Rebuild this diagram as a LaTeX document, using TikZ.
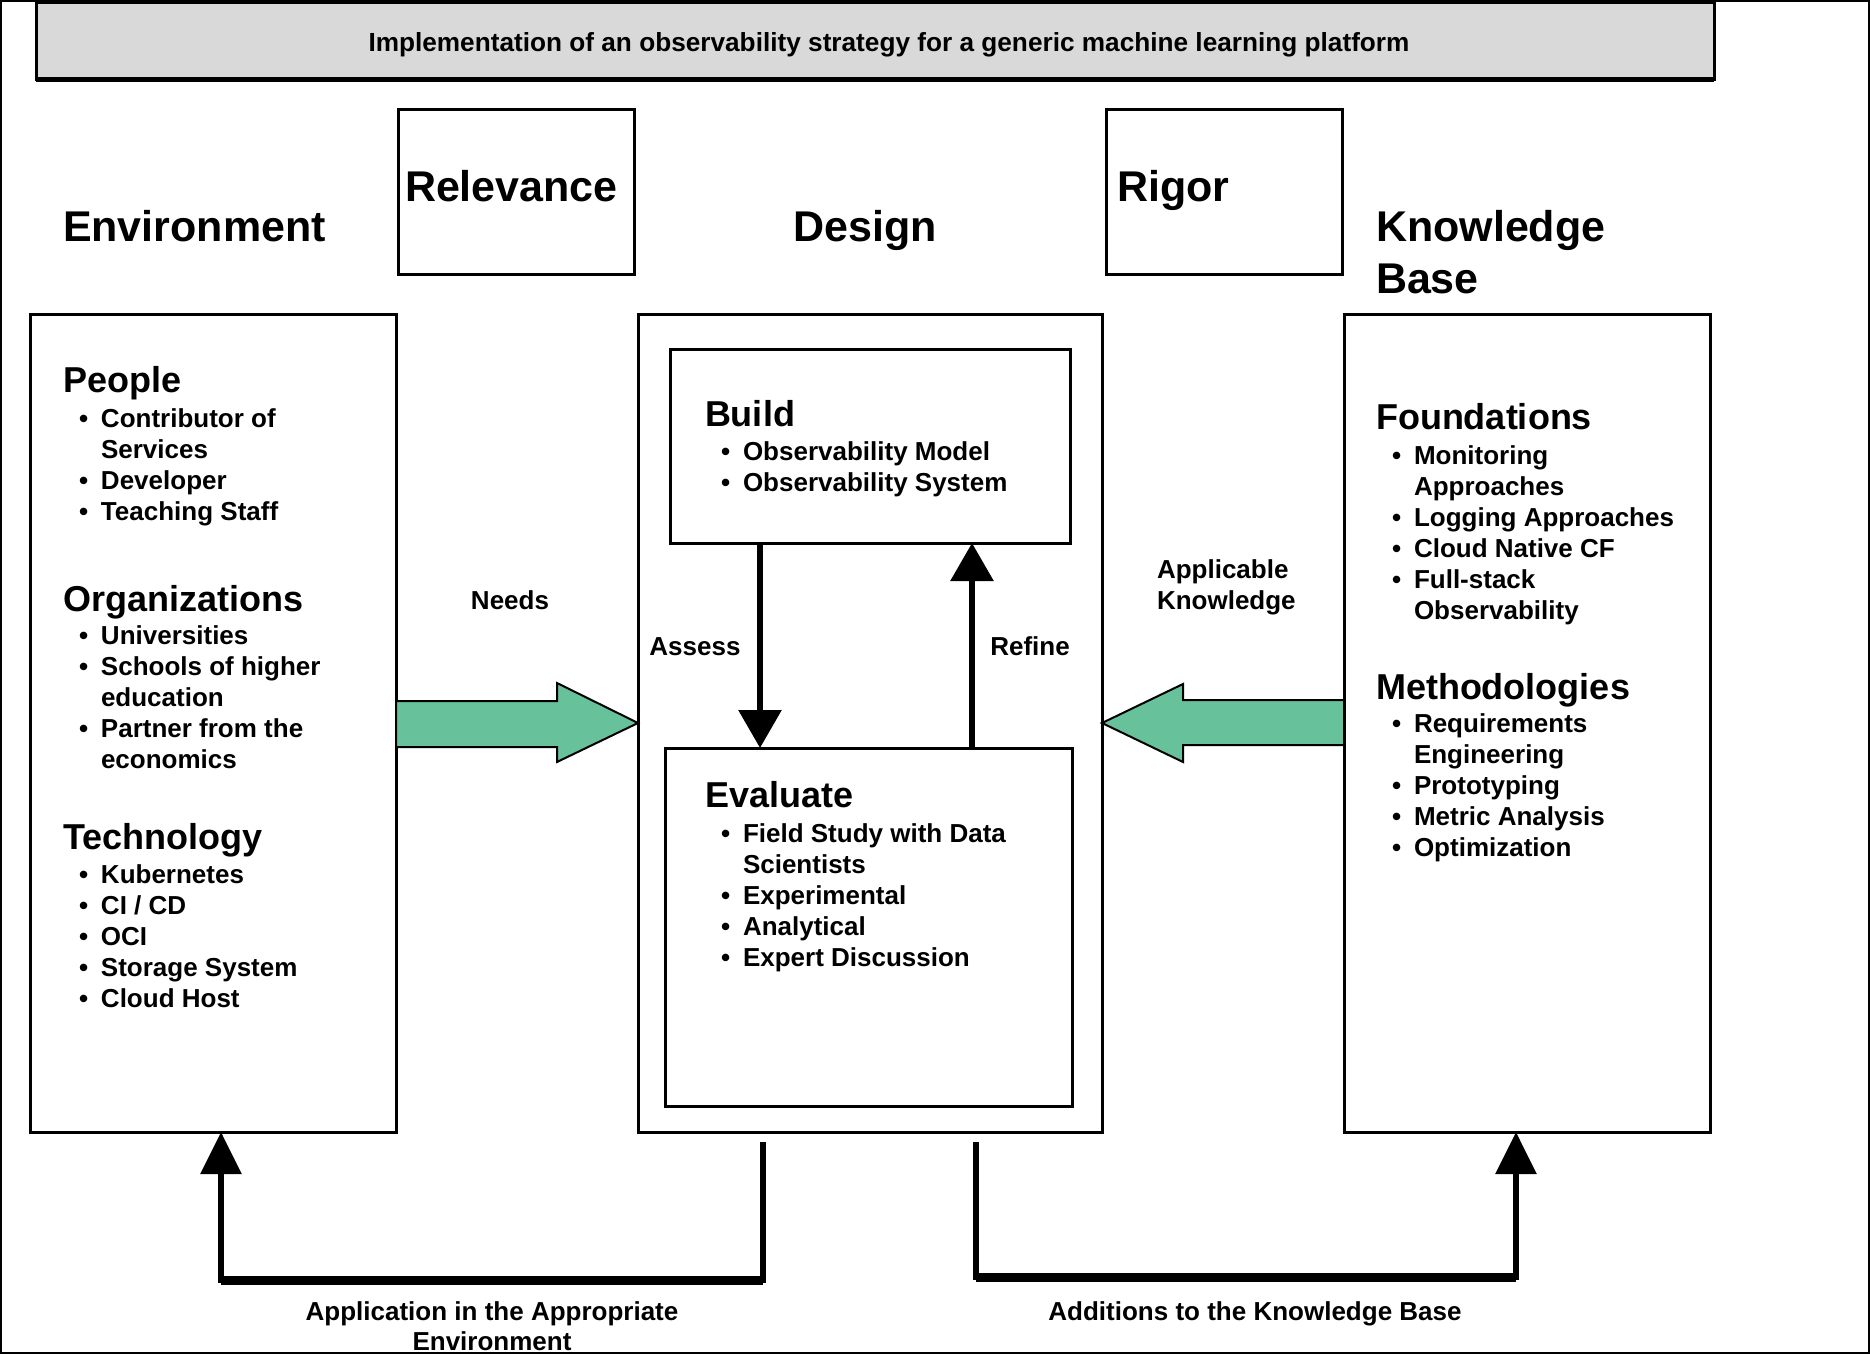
\documentclass[tikz,border=0pt]{standalone}
\usepackage{fontspec}
\setmainfont{Liberation Sans}
\usetikzlibrary{arrows.meta,fit}

\definecolor{titlegray}{HTML}{D9D9D9}
\definecolor{flowgreen}{HTML}{67C29C}

% bullet list helpers
\newcommand{\bul}{\makebox[11pt][l]{\textbullet}}
\newcommand{\cont}{\hspace*{11pt}}
\newcommand{\itemlines}[1]{\parbox[t]{300pt}{\fontsize{13}{15.5}\selectfont\bfseries\raggedright #1}}

\begin{document}
\begin{tikzpicture}[x=0.5pt,y=-0.5pt,
  every node/.style={inner sep=0pt, outer sep=0pt},
  box/.style={draw, line width=1.5pt, inner sep=0pt},
  head/.style={font=\fontsize{18}{21}\selectfont\bfseries},
  big/.style={font=\fontsize{21.5}{25.5}\selectfont\bfseries},
  lbl/.style={font=\fontsize{13}{15.5}\selectfont\bfseries},
  flowarrow/.style={line width=3pt, -{Triangle[width=21pt,length=19pt]}},
  backarrow/.style={line width=2.8pt, -{Triangle[width=20pt,length=21pt]}},
  greenflow/.style={draw, line width=1pt, fill=flowgreen, line join=miter}]

\useasboundingbox (0,0) rectangle (1870,1354);
\fill[white] (0,0) rectangle (1870,1354);
\draw[line width=1pt] (1,1) rectangle (1869,1353);

% title banner
\node[box, fill=titlegray, fit={(36,3) (1714,80)}] (title) {};
\draw[line width=2.5pt] (title.south west) -- (title.south east);
\node[font=\fontsize{13.1}{15}\selectfont\bfseries, anchor=base] (titletext) at (889,52)
  {Implementation of an observability strategy for a generic machine learning platform};

% column captions
\node[big, anchor=base west] (envlabel) at (63,242) {Environment};
\node[big, anchor=base] (designlabel) at (865,242) {Design};
\node[big, anchor=base west] (kblabel) at (1376,242) {Knowledge};
\node[big, anchor=base west] (kblabelb) at (1376,293) {Base};

\node[box, fit={(398,110) (634,274)}] (relevance) {};
\node[big, anchor=base west] (relevancetext) at (405,202) {Relevance};
\node[box, fit={(1106,110) (1342,274)}] (rigor) {};
\node[big, anchor=base west] (rigortext) at (1117,202) {Rigor};

% main columns
\node[box, fit={(30,314) (396,1132)}] (env) {};
\node[box, fit={(638,314) (1102,1132)}] (design) {};
\node[box, fit={(1344,314) (1710,1132)}] (kb) {};
\node[box, fit={(670,349) (1070,543)}] (build) {};
\node[box, fit={(665,748) (1072,1106)}] (evaluate) {};

% environment contents
\node[head, anchor=base west] (people) at (63,392) {People};
\node[anchor=base west] (peoplelist) at (79,427)
  {\itemlines{\bul Contributor of\\ \cont Services\\ \bul Developer\\ \bul Teaching Staff}};
\node[head, anchor=base west] (orgs) at (63,611) {Organizations};
\node[anchor=base west] (orgslist) at (79,644)
  {\itemlines{\bul Universities\\ \bul Schools of higher\\ \cont education\\ \bul Partner from the\\ \cont economics}};
\node[head, anchor=base west] (tech) at (63,849) {Technology};
\node[anchor=base west] (techlist) at (79,883)
  {\itemlines{\bul Kubernetes\\ \bul CI / CD\\ \bul OCI\\ \bul Storage System\\ \bul Cloud Host}};

% design contents
\node[head, anchor=base west] (buildhead) at (705,426) {Build};
\node[anchor=base west] (buildlist) at (721,460)
  {\itemlines{\bul Observability Model\\ \bul Observability System}};
\node[head, anchor=base west] (evalhead) at (705,807) {Evaluate};
\node[anchor=base west] (evallist) at (721,842)
  {\itemlines{\bul Field Study with Data\\ \cont Scientists\\ \bul Experimental\\ \bul Analytical\\ \bul Expert Discussion}};

% knowledge base contents
\node[head, anchor=base west] (found) at (1376,429) {Foundations};
\node[anchor=base west] (foundlist) at (1392,464)
  {\itemlines{\bul Monitoring\\ \cont Approaches\\ \bul Logging Approaches\\ \bul Cloud Native CF\\ \bul Full-stack\\ \cont Observability}};
\node[head, anchor=base west] (meth) at (1376,699) {Methodologies};
\node[anchor=base west] (methlist) at (1392,732)
  {\itemlines{\bul Requirements\\ \cont Engineering\\ \bul Prototyping\\ \bul Metric Analysis\\ \bul Optimization}};

% connector labels
\node[lbl, anchor=base] (needs) at (510,609) {Needs};
\node[lbl, anchor=base west] (applic) at (1157,578) {Applicable};
\node[lbl, anchor=base west] (applicb) at (1157,609) {Knowledge};
\node[lbl, anchor=base] (assess) at (695,655) {Assess};
\node[lbl, anchor=base] (refine) at (1030,655) {Refine};
\node[lbl, anchor=base] (applylabel) at (492,1320) {Application in the Appropriate};
\node[lbl, anchor=base] (applylabelb) at (492,1350) {Environment};
\node[lbl, anchor=base] (addlabel) at (1255,1320) {Additions to the Knowledge Base};

% wide green flow arrows
\draw[greenflow] (env.east |- 0,701) -- (557,701) -- (557,683) -- (design.west |- 0,723)
  -- (557,762) -- (557,747) -- (env.east |- 0,747) -- cycle;
\draw[greenflow] (kb.west |- 0,700) -- (1183,700) -- (1183,684) -- (design.east |- 0,723)
  -- (1183,762) -- (1183,745) -- (kb.west |- 0,745) -- cycle;

% build / evaluate cycle
\coordinate (assessx) at (760,0);
\coordinate (refinex) at (972,0);
\draw[flowarrow] (build.south -| assessx) -- (evaluate.north -| assessx);
\draw[flowarrow] (evaluate.north -| refinex) -- (build.south -| refinex);

% feedback to environment and knowledge base
\coordinate (applystart) at (763,1142);
\coordinate (applylow) at (221,1280);
\draw[backarrow] (applystart) |- (applylow) -- (applylow |- env.south);
\draw[line width=4.5pt] (applystart |- applylow) -- (applylow);

\coordinate (addstart) at (976,1142);
\coordinate (addlow) at (1516,1277);
\draw[backarrow] (addstart) |- (addlow) -- (addlow |- kb.south);
\draw[line width=4.5pt] (addstart |- addlow) -- (addlow);
\end{tikzpicture}
\end{document}
